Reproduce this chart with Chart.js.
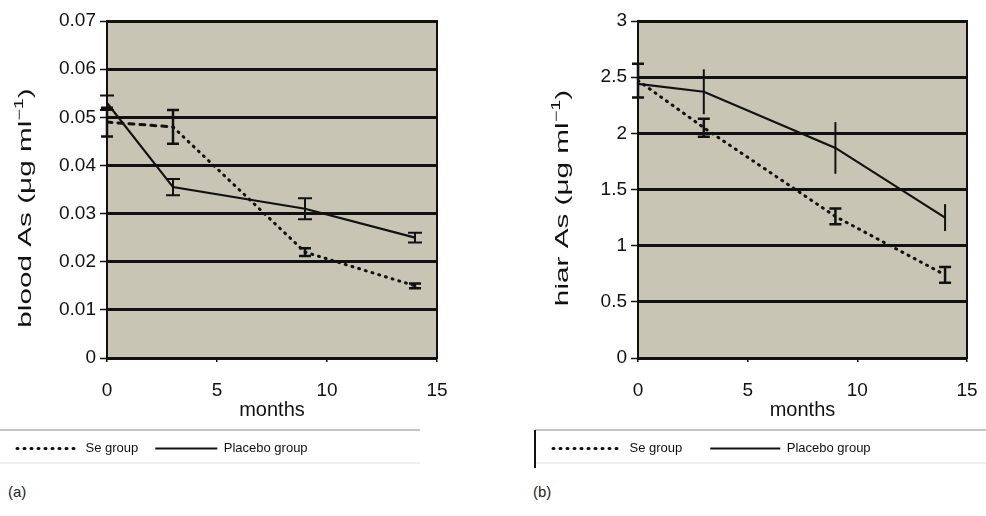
<!DOCTYPE html>
<html>
<head>
<meta charset="utf-8">
<script src="https://cdn.jsdelivr.net/npm/chart.js@4.4.1/dist/chart.umd.min.js"></script>
<style>
  body { margin: 0; background: #fff; width: 986px; height: 516px; overflow: hidden; position: relative; font-family: Arial, "Liberation Sans", sans-serif; }
  .wrap { position: absolute; top: 0; height: 470px; }
  #wrapA { left: 0; width: 465px; }
  #wrapB { left: 525px; width: 470px; }
  .tag { position: absolute; top: 483px; font-size: 15px; color: #222; }
</style>
</head>
<body>
<div class="wrap" id="wrapA"><canvas id="chartA"></canvas></div>
<div class="wrap" id="wrapB"><canvas id="chartB"></canvas></div>
<div class="tag" style="left:8px">(a)</div>
<div class="tag" style="left:533px">(b)</div>
<script>
const months = [0, 3, 9, 14];
const xTicks = [0, 5, 10, 15];

// (a) blood As
const bloodTicks = [0, 0.01, 0.02, 0.03, 0.04, 0.05, 0.06, 0.07];
const bloodSe = [0.049, 0.048, 0.022, 0.015];
const bloodSeErr = [0.003, 0.0035, 0.0008, 0.0005];
const bloodPlacebo = [0.053, 0.0355, 0.031, 0.025];
const bloodPlaceboErr = [0.0015, 0.0017, 0.0022, 0.001];

// (b) hair As
const hairTicks = [0, 0.5, 1, 1.5, 2, 2.5, 3];
const hairSe = [2.47, 2.05, 1.26, 0.74];
const hairSeErr = [0.15, 0.08, 0.07, 0.07];
const hairPlacebo = [2.44, 2.37, 1.87, 1.25];
const hairPlaceboErr = [0.05, 0.2, 0.23, 0.12];

const ink = "#111";
const toPoints = vals => months.map((m, i) => ({ x: m, y: vals[i] }));

const plotBack = {
  id: "plotBack",
  beforeDraw(chart) {
    const { ctx, chartArea: a } = chart;
    ctx.save();
    ctx.fillStyle = "#c8c5b4";
    ctx.fillRect(a.left, a.top, a.right - a.left, a.bottom - a.top);
    ctx.restore();
  },
  afterDraw(chart, args, opts) {
    const { ctx, chartArea: a } = chart;
    ctx.save();
    ctx.strokeStyle = ink;
    ctx.lineWidth = 2;
    ctx.strokeRect(a.left, a.top, a.right - a.left, a.bottom - a.top);
    // legend frame
    ctx.strokeStyle = "#888";
    ctx.lineWidth = 1;
    ctx.beginPath();
    ctx.moveTo(opts.fx, 430);
    ctx.lineTo(opts.fr, 430);
    ctx.stroke();
    ctx.strokeStyle = "#ddd";
    ctx.beginPath();
    ctx.moveTo(opts.fx, 463);
    ctx.lineTo(opts.fr, 463);
    ctx.stroke();
    if (opts.side) {
      ctx.strokeStyle = ink;
      ctx.lineWidth = 2;
      ctx.beginPath();
      ctx.moveTo(opts.fx, 430);
      ctx.lineTo(opts.fx, 468);
      ctx.stroke();
    }
    ctx.restore();
  }
};

const errorBars = {
  id: "errorBars",
  afterDatasetsDraw(chart) {
    const { ctx, scales: { x, y } } = chart;
    chart.data.datasets.forEach(ds => {
      ctx.save();
      ctx.strokeStyle = ink;
      ctx.lineWidth = ds.errWidth;
      ds.data.forEach((p, i) => {
        const px = x.getPixelForValue(p.x);
        const top = y.getPixelForValue(p.y + ds.err[i]);
        const bot = y.getPixelForValue(p.y - ds.err[i]);
        ctx.beginPath();
        ctx.moveTo(px, top);
        ctx.lineTo(px, bot);
        if (ds.cap) {
          ctx.moveTo(px - ds.cap, top);
          ctx.lineTo(px + ds.cap, top);
          ctx.moveTo(px - ds.cap, bot);
          ctx.lineTo(px + ds.cap, bot);
        }
        ctx.stroke();
      });
      ctx.restore();
    });
  }
};

// stretched rotated y title with superscript
const yTitle = {
  id: "yTitle",
  afterDraw(chart, args, opts) {
    const { ctx } = chart;
    const big = "18px Arial", small = "12px Arial";
    ctx.save();
    ctx.translate(opts.x, opts.y);
    ctx.rotate(-Math.PI / 2);
    ctx.scale(1.65, 1);
    ctx.fillStyle = ink;
    ctx.textBaseline = "middle";
    ctx.font = big;
    const w1 = ctx.measureText(opts.text).width;
    const w3 = ctx.measureText(")").width;
    ctx.font = small;
    const w2 = ctx.measureText("−1").width;
    let cx = -(w1 + w2 + w3) / 2;
    ctx.font = big;
    ctx.fillText(opts.text, cx, 0);
    cx += w1;
    ctx.font = small;
    ctx.fillText("−1", cx, -6);
    cx += w2;
    ctx.font = big;
    ctx.fillText(")", cx, 0);
    ctx.restore();
  }
};

// legend samples take their dash and width from the dataset line
const lineLabels = chart =>
  Chart.defaults.plugins.legend.labels.generateLabels(chart).map(item => {
    const ds = chart.data.datasets[item.datasetIndex];
    return {
      ...item,
      pointStyle: "line",
      lineDash: ds.borderDash || [],
      lineWidth: ds.borderWidth,
      lineCap: ds.borderCapStyle || "butt",
      strokeStyle: ink
    };
  });

function makeChart(id, cfg) {
  return new Chart(document.getElementById(id), {
    type: "scatter",
    data: {
      datasets: [
        {
          label: "Se group",
          data: toPoints(cfg.se),
          err: cfg.seErr,
          cap: 6,
          errWidth: 2.5,
          showLine: true,
          borderColor: ink,
          backgroundColor: ink,
          borderWidth: 3,
          borderDash: [1, 6],
          borderCapStyle: "round",
          pointRadius: 0,
          pointStyle: "line",
          segment: {
            borderDash: c => (cfg.dashFirst && c.p0DataIndex === 0 ? [5, 6] : undefined)
          }
        },
        {
          label: "Placebo group",
          data: toPoints(cfg.placebo),
          err: cfg.placeboErr,
          cap: cfg.placeboCap,
          errWidth: 2,
          showLine: true,
          borderColor: ink,
          backgroundColor: ink,
          borderWidth: 2.2,
          pointRadius: 0,
          pointStyle: "line"
        }
      ]
    },
    options: {
      responsive: true,
      maintainAspectRatio: false,
      animation: false,
      layout: { padding: { top: 21, right: cfg.padRight, bottom: 5, left: 0 } },
      scales: {
        x: {
          type: "linear",
          min: 0,
          max: 15,
          afterBuildTicks: s => { s.ticks = xTicks.map(v => ({ value: v })); },
          afterFit: s => { s.height = cfg.xHeight; },
          grid: { drawOnChartArea: false, color: ink, tickLength: 4, lineWidth: 1.5 },
          border: { display: false },
          ticks: { color: ink, font: { family: "Arial", size: 19 }, padding: 17, callback: v => String(v) },
          title: {
            display: true,
            text: "months",
            color: ink,
            font: { family: "Arial", size: 20 },
            padding: { top: 0, bottom: cfg.titlePad }
          }
        },
        y: {
          min: 0,
          max: cfg.yMax,
          afterBuildTicks: s => { s.ticks = cfg.yTicks.map(v => ({ value: v })); },
          afterFit: s => { s.width = cfg.yWidth; },
          grid: { color: ink, lineWidth: 3, tickLength: 7, tickWidth: 1.5, tickColor: ink },
          border: { display: false },
          ticks: { color: ink, font: { family: "Arial", size: 19 }, padding: 4, callback: v => String(v) }
        }
      },
      plugins: {
        tooltip: { enabled: false },
        legend: {
          position: "bottom",
          align: "start",
          labels: {
            usePointStyle: true,
            pointStyleWidth: cfg.sampleWidth,
            color: ink,
            font: { family: "Arial", size: 13 },
            padding: cfg.legendPad,
            generateLabels: lineLabels
          }
        },
        plotBack: cfg.frame,
        yTitle: cfg.title
      }
    },
    plugins: [plotBack, errorBars, yTitle]
  });
}

makeChart("chartA", {
  se: bloodSe, seErr: bloodSeErr, placebo: bloodPlacebo, placeboErr: bloodPlaceboErr,
  placeboCap: 7, dashFirst: true,
  yMax: 0.07, yTicks: bloodTicks, yWidth: 107, padRight: 28,
  xHeight: 67, titlePad: 3, legendPad: 17, sampleWidth: 62,
  frame: { fx: 0, fr: 420, side: false },
  title: { x: 26, y: 208, text: "blood As (μg ml" }
});

makeChart("chartB", {
  se: hairSe, seErr: hairSeErr, placebo: hairPlacebo, placeboErr: hairPlaceboErr,
  placeboCap: 0, dashFirst: false,
  yMax: 3, yTicks: hairTicks, yWidth: 113, padRight: 28,
  xHeight: 56, titlePad: -8, legendPad: 28, sampleWidth: 70,
  frame: { fx: 10, fr: 461, side: true },
  title: { x: 38, y: 198, text: "hiar As (μg ml" }
});
</script>
</body>
</html>
